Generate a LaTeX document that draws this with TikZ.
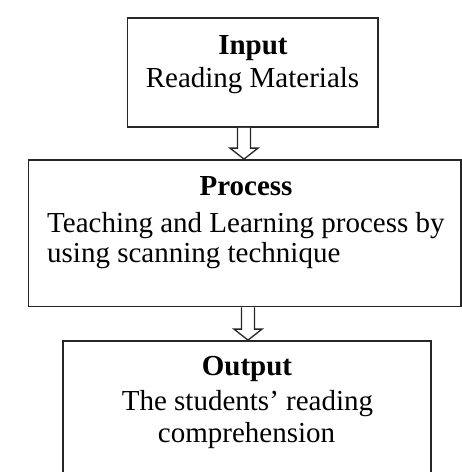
\documentclass[tikz,border=0pt]{standalone}
\usepackage{fontspec}
\setmainfont{Liberation Serif}
\usetikzlibrary{calc}
\begin{document}
\begin{tikzpicture}[x=1pt,y=-1pt,
  box/.style={draw=black!85,line width=1.8pt,rectangle,inner sep=0pt},
  label/.style={inner sep=0pt,font=\fontsize{29}{33}\selectfont},
  title/.style={label,font=\fontsize{29}{33}\selectfont\bfseries},
  hollow/.style={draw=black!85,line width=1.3pt,fill=white,line join=miter}]
\useasboundingbox (0,0) rectangle (462,472);
\begin{scope}
\clip (0,0) rectangle (462,472);
% boxes
\node[box,minimum width=250.5pt,minimum height=109pt] (input) at (252.75,72.5) {};
\node[box,minimum width=432.5pt,minimum height=146.5pt] (process) at (244.75,233.25) {};
\node[box,minimum width=368pt,minimum height=160pt] (output) at (247,421) {};
% block arrows between boxes
\coordinate (a1) at (244,0);
\coordinate (a2) at (248,0);
\draw[hollow] ($(a1 |- input.south)+(-6.5,0)$) -- ($(a1 |- process.north)+(-6.5,-11)$)
  -- ($(a1 |- process.north)+(-14,-11)$) -- (a1 |- process.north)
  -- ($(a1 |- process.north)+(14,-11)$) -- ($(a1 |- process.north)+(6.5,-11)$)
  -- ($(a1 |- input.south)+(6.5,0)$);
\draw[hollow] ($(a2 |- process.south)+(-6.5,0)$) -- ($(a2 |- output.north)+(-6.5,-11)$)
  -- ($(a2 |- output.north)+(-14,-11)$) -- (a2 |- output.north)
  -- ($(a2 |- output.north)+(14,-11)$) -- ($(a2 |- output.north)+(6.5,-11)$)
  -- ($(a2 |- process.south)+(6.5,0)$);
% texts
\node[title,anchor=base] (t1) at (253,54.5) {Input};
\node[label,anchor=base] (t2) at (252.5,87.5) {Reading Materials};
\node[title,anchor=base] (t3) at (246,195) {Process};
\node[label,anchor=base west] (t4) at (47,232) {Teaching and Learning process by};
\node[label,anchor=base west] (t5) at (47,262) {using scanning technique};
\node[title,anchor=base] (t6) at (247,375) {Output};
\node[label,anchor=base] (t7) at (247.5,410) {The students’ reading};
\node[label,anchor=base] (t8) at (246.5,442) {comprehension};
\end{scope}
\end{tikzpicture}
\end{document}
